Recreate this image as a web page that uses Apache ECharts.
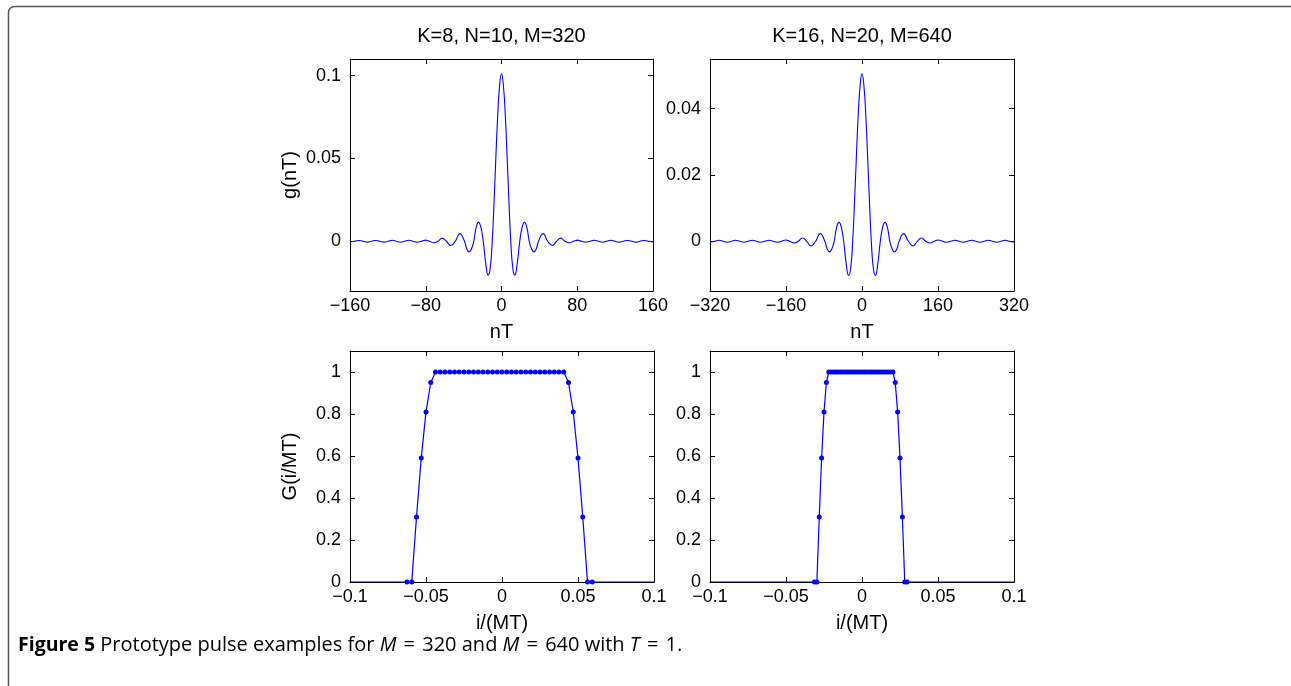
<!DOCTYPE html>
<html>
<head>
<meta charset="utf-8">
<script src="https://cdn.jsdelivr.net/npm/echarts@6/dist/echarts.min.js"></script>
<style>
html,body{margin:0;padding:0;background:#fff;}
#c{width:1291px;height:686px;}
</style>
</head>
<body>
<div id="c"></div>
<script>
// ---------- DATA ----------
const titles = ['K=8, N=10, M=320', 'K=16, N=20, M=640'];

// top-left: g(nT), K=8
const nT1 = [-160,-155,-150.5,-146.3,-142,-137.4,-133,-128.6,-124.3,-119.8,-115.5,-111,-106.7,-102.3,-98,-93.5,-89,-84.7,-80.3,-76,-71.5,-67,-62.7,-58.2,-53.6,-48.8,-44,-39.1,-36.7,-34.2,-31.8,-29.3,-26.8,-24.3,-21.8,-19.3,-16.6,-14.1,-12,-9.8,-8,-6,-4,-2,0,2,4,6,8,9.8,12,14.1,16.6,19.3,21.8,24.3,26.8,29.3,31.8,34.2,36.7,39.1,44,48.8,53.6,58.2,62.7,67,71.5,76,80.3,84.7,89,93.5,98,102.3,106.7,111,115.5,119.8,124.3,128.6,133,137.4,142,146.3,150.5,155,160];
const g1 = [-0.0004,0,0.0005,0,-0.0005,0,0.0005,0,-0.0005,0,0.0006,0,-0.0006,0,0.0006,0,-0.0006,0,0.0007,0,-0.0009,0,0.0019,0,-0.0025,0,0.0046,0,-0.0045,-0.0064,-0.0046,0,0.0082,0.0114,0.0085,0,-0.0135,-0.0204,-0.0165,0,0.022,0.05,0.076,0.094,0.101,0.094,0.076,0.05,0.022,0,-0.0165,-0.0204,-0.0135,0,0.0085,0.0114,0.0082,0,-0.0046,-0.0064,-0.0045,0,0.0046,0,-0.0025,0,0.0019,0,-0.0009,0,0.0007,0,-0.0006,0,0.0006,0,-0.0006,0,0.0006,0,-0.0005,0,0.0005,0,-0.0005,0,0.0005,0,-0.0004];

// top-right: g(nT), K=16
const nT2 = [-320,-310,-301,-292.6,-284,-274.8,-266,-257.2,-248.6,-239.6,-231,-222,-213.4,-204.6,-196,-187,-178,-169.4,-160.6,-152,-143,-134,-125.4,-116.4,-107.2,-97.6,-88,-78.2,-73.4,-68.4,-63.6,-58.6,-53.6,-48.6,-43.6,-38.6,-33.2,-28.2,-24,-19.6,-16,-12,-8,-4,0,4,8,12,16,19.6,24,28.2,33.2,38.6,43.6,48.6,53.6,58.6,63.6,68.4,73.4,78.2,88,97.6,107.2,116.4,125.4,134,143,152,160.6,169.4,178,187,196,204.6,213.4,222,231,239.6,248.6,257.2,266,274.8,284,292.6,301,310,320];
const g2 = [-0.0002,0,0.0003,0,-0.0003,0,0.0003,0,-0.0003,0,0.0003,0,-0.0003,0,0.0003,0,-0.0003,0,0.0004,0,-0.0005,0,0.001,0,-0.0014,0,0.0023,0,-0.0023,-0.0032,-0.0023,0,0.0041,0.0057,0.0043,0,-0.0068,-0.0103,-0.0083,0,0.011,0.025,0.038,0.047,0.0505,0.047,0.038,0.025,0.011,0,-0.0083,-0.0103,-0.0068,0,0.0043,0.0057,0.0041,0,-0.0023,-0.0032,-0.0023,0,0.0023,0,-0.0014,0,0.001,0,-0.0005,0,0.0004,0,-0.0003,0,0.0003,0,-0.0003,0,0.0003,0,-0.0003,0,0.0003,0,-0.0003,0,0.0003,0,-0.0002];

// bottom-left: G(i/MT), M=320
const freq1 = [-0.0625,-0.059375,-0.05625,-0.053125,-0.05,-0.046875,-0.04375,-0.040625,-0.0375,-0.034375,-0.03125,-0.028125,-0.025,-0.021875,-0.01875,-0.015625,-0.0125,-0.009375,-0.00625,-0.003125,0,0.003125,0.00625,0.009375,0.0125,0.015625,0.01875,0.021875,0.025,0.028125,0.03125,0.034375,0.0375,0.040625,0.04375,0.046875,0.05,0.053125,0.05625,0.059375];
const G1 = [0,0,0.31,0.59,0.81,0.95,1,1,1,1,1,1,1,1,1,1,1,1,1,1,1,1,1,1,1,1,1,1,1,1,1,1,1,1,0.95,0.81,0.59,0.31,0,0];

// bottom-right: G(i/MT), M=640
const freq2 = [-0.03125,-0.0296875,-0.028125,-0.0265625,-0.025,-0.0234375,-0.021875,-0.0203125,-0.01875,-0.0171875,-0.015625,-0.0140625,-0.0125,-0.0109375,-0.009375,-0.0078125,-0.00625,-0.0046875,-0.003125,-0.0015625,0,0.0015625,0.003125,0.0046875,0.00625,0.0078125,0.009375,0.0109375,0.0125,0.0140625,0.015625,0.0171875,0.01875,0.0203125,0.021875,0.0234375,0.025,0.0265625,0.028125,0.0296875];
const G2 = [0,0,0.31,0.59,0.81,0.95,1,1,1,1,1,1,1,1,1,1,1,1,1,1,1,1,1,1,1,1,1,1,1,1,1,1,1,1,0.95,0.81,0.59,0.31,0,0];

// axis ranges and tick values
const xTicksTop1 = [-160, 160, 80];
const xTicksTop2 = [-320, 320, 160];
const xTicksBot = [-0.1, 0.1, 0.05];
const yTicksTL = [0, 0.05, 0.1];
const yTicksTR = [0, 0.02, 0.04];
const yTicksB = [0, 0.2, 0.4, 0.6, 0.8, 1];
const yRangeTL = [-0.03, 0.11];
const yRangeTR = [-0.015, 0.055];
const yRangeB = [0, 1.1];

// ---------- CHART ----------
const FONT = '"Liberation Sans", Arial, Helvetica, sans-serif';
const CAPFONT = '"Open Sans", sans-serif';
const BLUE = '#0000ff';
const fmt = v => String(+(+v).toFixed(6)).replace('-', '\u2212');

const grids = [
  {left: 350, top: 59, width: 303, height: 232},
  {left: 710, top: 59, width: 304, height: 232},
  {left: 350, top: 351, width: 304, height: 231},
  {left: 710, top: 351, width: 304, height: 231}
];

function mkX(gi, t, name, pos) {
  const main = pos === 'bottom';
  return {
    type: 'value', gridIndex: gi, position: pos,
    min: t[0], max: t[1], interval: t[2],
    axisLine: {show: true, onZero: false, lineStyle: {color: '#000', width: 1}},
    axisTick: {show: true, inside: true, length: 5, lineStyle: {color: '#000', width: 1}},
    axisLabel: {show: main, fontSize: 18, color: '#000', fontFamily: FONT, margin: 6, formatter: fmt},
    splitLine: {show: false},
    name: main ? name : '', nameLocation: 'middle', nameGap: 31,
    nameTextStyle: {fontSize: 20, color: '#000', fontFamily: FONT}
  };
}
function mkY(gi, range, vals, name, pos) {
  const main = pos === 'left';
  return {
    type: 'value', gridIndex: gi, position: pos,
    min: range[0], max: range[1],
    axisLine: {show: true, onZero: false, lineStyle: {color: '#000', width: 1}},
    axisTick: {show: true, inside: true, length: 5, customValues: vals, lineStyle: {color: '#000', width: 1}},
    axisLabel: {show: main, customValues: vals, fontSize: 18, color: '#000', fontFamily: FONT, margin: 9, formatter: fmt},
    splitLine: {show: false},
    name: main ? name : '', nameLocation: 'middle', nameGap: 50,
    nameTextStyle: {fontSize: 20, color: '#000', fontFamily: FONT}
  };
}

const xAxis = [
  mkX(0, xTicksTop1, 'nT', 'bottom'), mkX(0, xTicksTop1, '', 'top'),
  mkX(1, xTicksTop2, 'nT', 'bottom'), mkX(1, xTicksTop2, '', 'top'),
  mkX(2, xTicksBot, 'i/(MT)', 'bottom'), mkX(2, xTicksBot, '', 'top'),
  mkX(3, xTicksBot, 'i/(MT)', 'bottom'), mkX(3, xTicksBot, '', 'top')
];
const yAxis = [
  mkY(0, yRangeTL, yTicksTL, 'g(nT)', 'left'), mkY(0, yRangeTL, yTicksTL, '', 'right'),
  mkY(1, yRangeTR, yTicksTR, '', 'left'), mkY(1, yRangeTR, yTicksTR, '', 'right'),
  mkY(2, yRangeB, yTicksB, 'G(i/MT)', 'left'), mkY(2, yRangeB, yTicksB, '', 'right'),
  mkY(3, yRangeB, yTicksB, '', 'left'), mkY(3, yRangeB, yTicksB, '', 'right')
];

function curve(xs, ys, ai) {
  return {
    type: 'line', xAxisIndex: ai, yAxisIndex: ai,
    data: xs.map((x, i) => [x, ys[i]]),
    smooth: 0.5, symbol: 'none', showSymbol: false,
    lineStyle: {color: BLUE, width: 1.1}, itemStyle: {color: BLUE},
    animation: false, z: 3
  };
}
function sampled(xs, ys, ai, lo, hi) {
  const d = [{value: [lo, 0], symbol: 'none'}]
    .concat(xs.map((x, i) => [x, ys[i]]))
    .concat([{value: [hi, 0], symbol: 'none'}]);
  return {
    type: 'line', xAxisIndex: ai, yAxisIndex: ai, data: d,
    symbol: 'circle', symbolSize: 5, showSymbol: true, showAllSymbol: true,
    lineStyle: {color: BLUE, width: 1.2}, itemStyle: {color: BLUE},
    animation: false, z: 3
  };
}

const option = {
  backgroundColor: '#fff',
  animation: false,
  grid: grids,
  xAxis: xAxis,
  yAxis: yAxis,
  series: [
    curve(nT1, g1, 0),
    curve(nT2, g2, 2),
    sampled(freq1, G1, 4, xTicksBot[0], xTicksBot[1]),
    sampled(freq2, G2, 6, xTicksBot[0], xTicksBot[1])
  ],
  graphic: [
    {type: 'rect', silent: true, shape: {x: 8.5, y: 6.5, width: 1400, height: 800, r: [6, 0, 0, 0]},
     style: {fill: 'none', stroke: '#555', lineWidth: 1.5}},
    {type: 'text', x: 501.5, y: 36, silent: true,
     style: {text: titles[0], font: '20px ' + FONT, fill: '#000', align: 'center', verticalAlign: 'middle'}},
    {type: 'text', x: 862, y: 36, silent: true,
     style: {text: titles[1], font: '20px ' + FONT, fill: '#000', align: 'center', verticalAlign: 'middle'}},
    {type: 'text', x: 18, y: 645, silent: true,
     style: {
       text: '{b|Figure 5} Prototype pulse examples for {i|M} {e|=} 320 and {i|M} {e|=} 640 with {i|T} {e|=} 1.',
       fontFamily: CAPFONT, fontSize: 20, fill: '#000',
       verticalAlign: 'middle', align: 'left',
       rich: {
         b: {fontFamily: CAPFONT, fontSize: 19.5, fontWeight: 'bold', fill: '#000'},
         i: {fontFamily: CAPFONT, fontSize: 20, fontStyle: 'italic', fill: '#000'},
         e: {fontFamily: CAPFONT, fontSize: 20, fill: '#000', padding: [0, 2, 0, 2]}
       }
     }}
  ]
};

const chart = echarts.init(document.getElementById('c'), null, {renderer: 'canvas'});
chart.setOption(option);
</script>
</body>
</html>
